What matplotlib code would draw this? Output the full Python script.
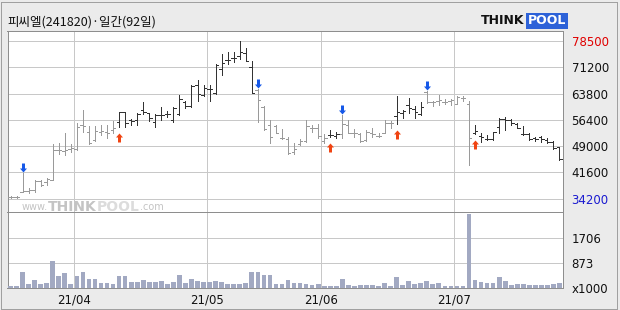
import matplotlib
matplotlib.use("Agg")
import matplotlib.pyplot as plt
from matplotlib.path import Path
from matplotlib.patches import Rectangle

title = "피씨엘(241820)·일간(92일)"

# daily OHLC, 92 sessions
opens = [34800, 34800, 36000, 36500, 36800, 39200, 38900, 39500, 48000, 47700,
         48100, 48300, 55000, 53100, 50700, 53000, 52900, 53500, 55800, 58500,
         56400, 56400, 59300, 58300, 55800, 57800, 58100, 56400, 58000, 61300,
         60200, 66300, 63400, 65200, 63900, 70600, 73100, 73700, 74500, 75300,
         71400, 64800, 60000, 55000, 54600, 51400, 51000, 47300, 49500, 50400,
         54100, 54000, 50400, 52200, 51900, 52300, 55000, 52700, 52300, 50700,
         52800, 52000, 52800, 55400, 57600, 58300, 60600, 59500, 58000, 64300,
         61300, 61600, 61500, 61600, 61000, 62500, 61000, 52600, 52000, 51000,
         51000, 54400, 56600, 56400, 55300, 52400, 52300, 51400, 51500, 50800,
         50300, 48800]
highs = [35100, 35100, 41400, 37200, 39600, 39400, 40100, 49500, 49800, 52600,
         49600, 55400, 59200, 54800, 54700, 55000, 55000, 56100, 58700, 58700,
         56700, 58300, 61300, 58300, 58100, 59900, 58900, 59900, 63500, 61600,
         66300, 67700, 66300, 66300, 72000, 74800, 75600, 75400, 78500, 76700,
         72900, 65100, 60400, 56400, 55000, 53800, 51500, 49800, 51000, 56400,
         55000, 55200, 52300, 53500, 52900, 57800, 56400, 53700, 52600, 53500,
         54000, 52600, 56400, 56100, 63000, 59200, 62600, 60200, 61400, 64400,
         61800, 63500, 62300, 62300, 63000, 63000, 61600, 55000, 52600, 52100,
         53100, 56900, 57300, 56700, 55400, 54800, 52600, 51600, 51800, 51400,
         50400, 48800]
lows = [34500, 34500, 36000, 35900, 36200, 37900, 38100, 39500, 46700, 46600,
        47400, 47900, 53100, 49500, 50400, 52100, 51200, 52800, 54300, 54300,
        55000, 55000, 58100, 56100, 54500, 56400, 57300, 55900, 57800, 59700,
        59900, 61800, 63000, 61600, 63700, 69000, 72200, 72700, 73600, 72900,
        64000, 55900, 53500, 49800, 52600, 50900, 46700, 46900, 49200, 50200,
        52900, 51200, 49800, 51600, 51200, 51200, 52600, 51600, 50200, 50400,
        51600, 51600, 52600, 54200, 55200, 57000, 58300, 56900, 57800, 61100,
        60200, 60600, 60800, 60600, 60800, 61600, 43600, 52300, 50100, 50700,
        50700, 52800, 53500, 55000, 54000, 52100, 50700, 50400, 50200, 50000,
        48300, 45200]
closes = [34800, 34800, 36500, 36800, 39300, 38100, 39800, 47900, 48000, 48000,
          48400, 54500, 54800, 50000, 53300, 53200, 52600, 54200, 58600, 55400,
          56200, 58100, 58600, 56900, 57700, 57800, 58100, 59600, 62400, 60300,
          66000, 63700, 65400, 65200, 71700, 72500, 73100, 73700, 75500, 72900,
          64000, 61900, 53700, 51500, 52600, 51200, 47100, 48100, 50500, 54600,
          54100, 51800, 51200, 52200, 52300, 55300, 52600, 52700, 50500, 52900,
          52300, 52000, 55600, 55400, 58500, 58800, 59800, 58600, 59900, 61500,
          61300, 62100, 61500, 62100, 62700, 62500, 51200, 53300, 51500, 51000,
          53000, 56600, 56400, 55600, 54000, 52400, 50900, 51000, 50900, 50300,
          48600, 45300]
# volume in thousands of shares
volumes = [117, 117, 562, 173, 318, 173, 229, 950, 450, 529,
           196, 450, 562, 362, 362, 218, 218, 196, 429, 450,
           240, 262, 318, 251, 262, 285, 173, 262, 484, 229,
           340, 285, 251, 262, 285, 262, 196, 196, 196, 229,
           562, 584, 484, 484, 196, 196, 318, 229, 229, 173,
           151, 173, 118, 118, 118, 340, 151, 118, 140, 140,
           140, 118, 207, 118, 418, 151, 284, 195, 229, 284,
           195, 218, 118, 118, 118, 118, 2482, 318, 262, 229,
           229, 418, 284, 151, 173, 173, 140, 140, 140, 140,
           195, 229]

buy_idx = [18, 53, 64, 77]
sell_idx = [2, 41, 55, 69]

month_pos = [10.5, 32.5, 51.5, 73.5]
month_labels = ["21/04", "21/05", "21/06", "21/07"]
price_ticks = [34200, 41600, 49000, 56400, 63800, 71200, 78500]
vol_ticks = [40, 873, 1706]
vol_labels = ["x1000", "873", "1706"]

W, H = 620, 310
px = 72 / 100  # one pixel in points

bg = "#ebebeb"
grid_c = "#c8c8c8"
spine_c = "#8e8e8e"

fig = plt.figure(figsize=(6.2, 3.1), dpi=100)
fig.set_facecolor(bg)

left, right = 7.5, 562.5
top, mid, bot = 31.3, 212.3, 288.3
ax = fig.add_axes([left / W, 1 - mid / H, (right - left) / W, (mid - top) / H])
axv = fig.add_axes([left / W, 1 - bot / H, (right - left) / W, (bot - mid) / H], sharex=ax)

# bar colour: dark while a buy signal is active, grey otherwise
cols = []
dark = False
for i in range(len(opens)):
    if i in buy_idx:
        dark = True
    if i in sell_idx:
        dark = False
    cols.append("#333333" if dark else "#9a9a9a")

xs = list(range(len(opens)))
ax.vlines(xs, lows, highs, colors=cols, lw=px, antialiased=False, zorder=3)
ax.hlines(opens, [x - 0.4 for x in xs], xs, colors=cols, lw=px, antialiased=False, zorder=3)
ax.hlines(closes, xs, [x + 0.4 for x in xs], colors=cols, lw=px, antialiased=False, zorder=3)

# signal arrows (path in pixel units, offset from the bar end)
down = Path([(0, 1), (3.5, 5), (1.5, 5), (1.5, 10), (-1.5, 10), (-1.5, 5), (-3.5, 5), (0, 1)],
            [1, 2, 2, 2, 2, 2, 2, 79])
up = Path([(0, -6), (3.5, -10), (1.5, -10), (1.5, -15), (-1.5, -15), (-1.5, -10), (-3.5, -10), (0, -6)],
          [1, 2, 2, 2, 2, 2, 2, 79])
for i in sell_idx:
    ax.plot(i, highs[i], marker=down, markersize=20 * px, color="#1558e8", mec="none", zorder=4)
for i in buy_idx:
    ax.plot(i, lows[i], marker=up, markersize=30 * px, color="#f04412", mec="none", zorder=4)

axv.bar(xs, volumes, width=0.78, color="#a2a9c2", antialiased=False, zorder=3)

ax.set_xlim(-0.5, len(opens) - 0.5)
ax.set_ylim(30400, 81313)
axv.set_ylim(40, 2539)

ax.set_yticks(price_ticks)
axv.set_yticks(vol_ticks, vol_labels)
axv.set_xticks(month_pos, month_labels)

for a in (ax, axv):
    a.set_facecolor("white")
    a.set_axisbelow(True)
    a.yaxis.tick_right()
    a.grid(True, color=grid_c, lw=px, antialiased=False)
    a.tick_params(axis="y", length=0, pad=6.5, labelsize=8.5, labelcolor="#111111")
    for s in a.spines.values():
        s.set_color(spine_c)
        s.set_linewidth(px)

ax.tick_params(axis="x", length=0, labelbottom=False)
ylabs = ax.get_yticklabels()
ylabs[-1].set_color("#e00000")
ylabs[0].set_color("#1a1ad0")
axv.tick_params(axis="x", length=0, pad=4, labelsize=8.5, labelcolor="#111111")

# watermark
ax.text(0.026, 0.0, "www.", transform=ax.transAxes, fontsize=7, color="#c4c4c4", va="bottom", zorder=1)
ax.text(0.073, -0.01, "THINK", transform=ax.transAxes, fontsize=10, fontweight="bold",
        color="#c4c4c4", va="bottom", zorder=1)
ax.text(0.160, -0.01, "POOL", transform=ax.transAxes, fontsize=10, fontweight="bold",
        color="#dcdcdc", va="bottom", zorder=1)
ax.text(0.238, 0.0, ".com", transform=ax.transAxes, fontsize=7, color="#c4c4c4", va="bottom", zorder=1)

# title and logo
fig.text(7.5 / W, 1 - 22 / H, title, fontsize=9, family=["Noto Sans CJK KR", "DejaVu Sans"],
         color="#111111", va="center", ha="left")
fig.text(481 / W, 1 - 21 / H, "THINK", fontsize=9, fontweight="heavy", color="#111111",
         va="center", ha="left")
fig.text(528 / W, 1 - 21 / H, "POOL", fontsize=9, fontweight="bold", color="white",
         va="center", ha="left",
         bbox=dict(facecolor="#2d62d8", edgecolor="none", boxstyle="square,pad=0.15"))

fig.patches.append(Rectangle((0.5 / W, 1.5 / H), 616.5 / W, 306.5 / H, transform=fig.transFigure,
                             fill=False, edgecolor="#a0a0a0", lw=px, antialiased=False))

fig.savefig("out.png", dpi=100, facecolor=bg)
